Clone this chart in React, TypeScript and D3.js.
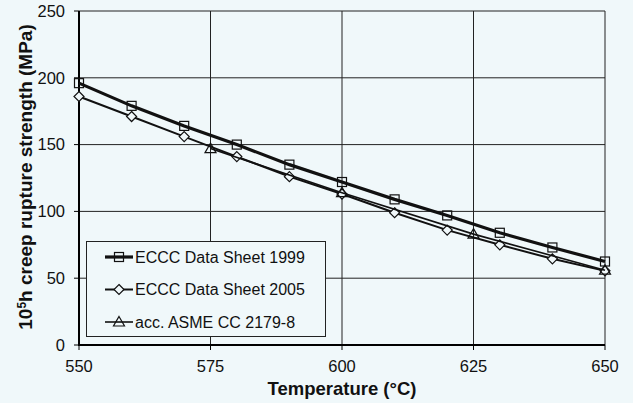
import React from "react";
import * as d3 from "d3";

const temps1999 = [550, 560, 570, 580, 590, 600, 610, 620, 630, 640, 650];
const eccc1999 = [196, 179, 164, 150, 135, 122, 109, 97, 84, 73, 62.5];
const temps2005 = [550, 560, 570, 580, 590, 600, 610, 620, 630, 640, 650];
const eccc2005 = [186, 171, 156, 141, 126, 113, 99, 86, 75, 64.5, 55.5];
const tempsAsme = [575, 600, 625, 650];
const asme = [147, 114, 83, 56];
const xTicks = [550, 575, 600, 625, 650];
const yTicks = [0, 50, 100, 150, 200, 250];
const legendLabels = ["ECCC Data Sheet 1999", "ECCC Data Sheet 2005", "acc. ASME CC 2179-8"];

const W = 633, H = 403;
const L = 79, R = 605, T = 11, B = 345;
const BG = "#f0f8fa";
const FONT = "Liberation Sans, Arial, sans-serif";

function Marker({ kind, x, y }: { kind: string; x: number; y: number }) {
  if (kind === "square")
    return <rect x={x - 4.5} y={y - 4.5} width={9} height={9} fill="none" stroke="#111" strokeWidth={1.2} />;
  if (kind === "diamond")
    return <path d={`M${x},${y - 5}L${x + 5},${y}L${x},${y + 5}L${x - 5},${y}Z`} fill={BG} stroke="#111" strokeWidth={1.2} />;
  return <path d={`M${x},${y - 5.5}L${x + 5.5},${y + 4}L${x - 5.5},${y + 4}Z`} fill="none" stroke="#111" strokeWidth={1.2} />;
}

export default function App() {
  const x = d3.scaleLinear().domain([550, 650]).range([L, R]);
  const y = d3.scaleLinear().domain([0, 250]).range([B, T]);
  const line = d3.line<[number, number]>().x((d) => x(d[0])).y((d) => y(d[1]));

  const series = [
    { xs: temps1999, ys: eccc1999, kind: "square", w: 3.2 },
    { xs: temps2005, ys: eccc2005, kind: "diamond", w: 2 },
    { xs: tempsAsme, ys: asme, kind: "triangle", w: 1.6 },
  ];

  return (
    <svg width={W} height={H} style={{ position: "absolute", left: 0, top: 0, background: BG }} fontFamily={FONT}>
      <rect x={0} y={0} width={W} height={H} fill={BG} />
      {yTicks.filter((t) => t > 0).map((t) => (
        <line key={"gy" + t} x1={L} x2={R} y1={y(t)} y2={y(t)} stroke="#222" strokeWidth={1} />
      ))}
      {xTicks.filter((t) => t > 550).map((t) => (
        <line key={"gx" + t} x1={x(t)} x2={x(t)} y1={T} y2={B} stroke="#222" strokeWidth={1} />
      ))}
      <line x1={L} x2={L} y1={T} y2={B + 1} stroke="#000" strokeWidth={2} />
      <line x1={L - 1} x2={R} y1={B} y2={B} stroke="#000" strokeWidth={2} />
      {yTicks.map((t) => (
        <g key={"ty" + t}>
          <line x1={L - 5} x2={L} y1={y(t)} y2={y(t)} stroke="#000" strokeWidth={1} />
          <text x={L - 14} y={y(t)} dy="0.35em" textAnchor="end" fontSize={16.5} fill="#111">{t}</text>
        </g>
      ))}
      {xTicks.map((t) => (
        <g key={"tx" + t}>
          <line x1={x(t)} x2={x(t)} y1={B} y2={B + 5} stroke="#000" strokeWidth={1} />
          <text x={x(t)} y={B + 21} dy="0.35em" textAnchor="middle" fontSize={16.5} fill="#111">{t}</text>
        </g>
      ))}
      {series.map((s, i) => {
        const pts = s.xs.map((v, j) => [v, s.ys[j]] as [number, number]);
        return (
          <g key={"s" + i}>
            <path d={line(pts) || ""} fill="none" stroke="#111" strokeWidth={s.w} />
            {pts.map((p, j) => (
              <Marker key={j} kind={s.kind} x={x(p[0])} y={y(p[1])} />
            ))}
          </g>
        );
      })}
      <rect x={86.5} y={241.5} width={239} height={95} fill={BG} stroke="#222" strokeWidth={1} />
      {legendLabels.map((lab, i) => {
        const ly = 257 + i * 32.5;
        return (
          <g key={"l" + i}>
            <line x1={105} x2={133} y1={ly} y2={ly} stroke="#111" strokeWidth={series[i].w} />
            <Marker kind={series[i].kind} x={119} y={ly} />
            <text x={135} y={ly} dy="0.35em" fontSize={16} fill="#111">{lab}</text>
          </g>
        );
      })}
      <text x={(L + R) / 2} y={389} dy="0.35em" textAnchor="middle" fontSize={18.5} fontWeight="bold" fill="#111">
        Temperature (°C)
      </text>
      <text transform={`translate(25,${(T + B) / 2 - 1}) rotate(-90)`} textAnchor="middle" dy="0.35em" fontSize={19} fontWeight="bold" fill="#111">
        10<tspan dy="-6" fontSize={12}>5</tspan><tspan dy="6">h creep rupture strength (MPa)</tspan>
      </text>
    </svg>
  );
}
